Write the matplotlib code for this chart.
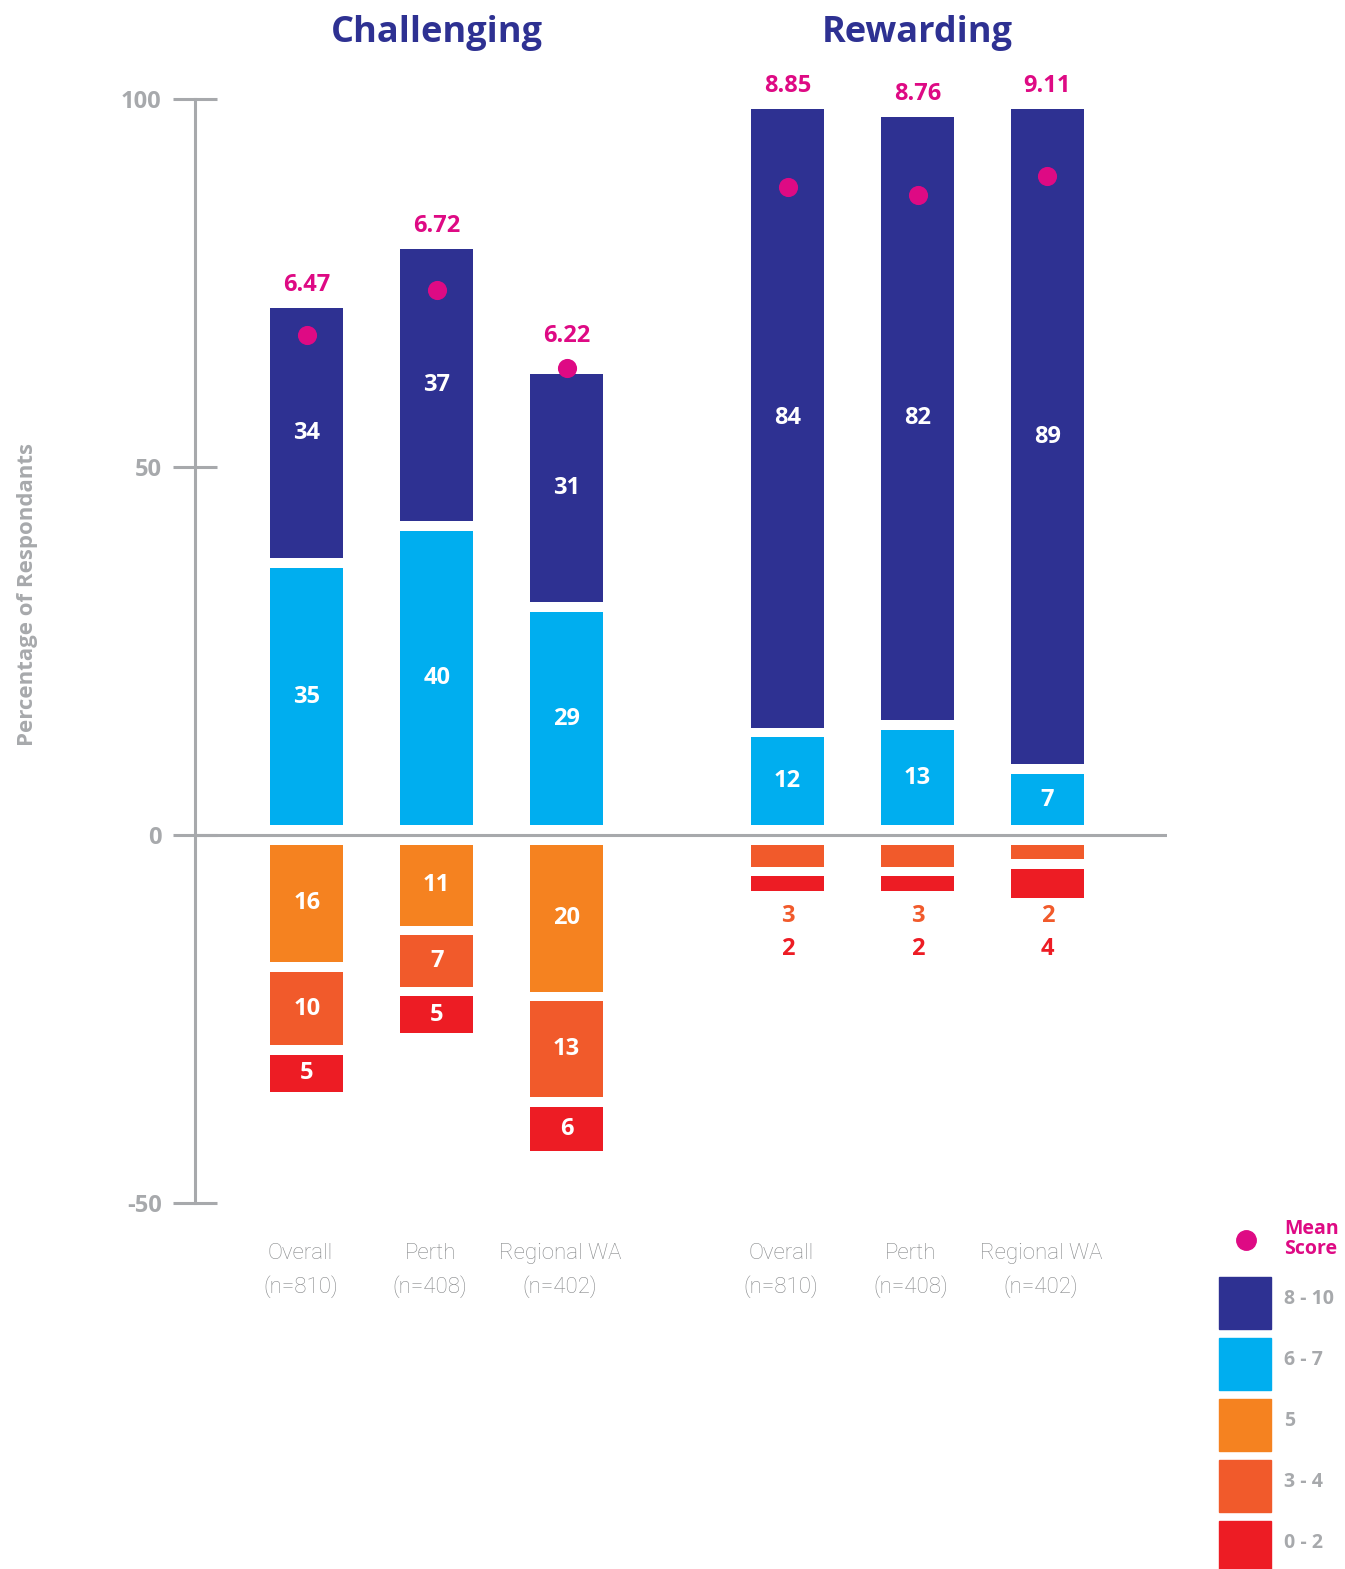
import numpy as np
import matplotlib.pyplot as plt
from matplotlib.patches import Rectangle
from matplotlib.transforms import blended_transform_factory

plt.rcParams['font.family'] = ['Open Sans', 'DejaVu Sans']
plt.rcParams['axes.unicode_minus'] = False

# data
groups = ['Challenging', 'Rewarding']
locations = ['Overall\n(n=810)', 'Perth\n(n=408)', 'Regional WA\n(n=402)']
bands = ['8 - 10', '6 - 7', '5', '3 - 4', '0 - 2']
yticks = [-50, 0, 50, 100]

chal_8_10 = [34, 37, 31]
chal_6_7 = [35, 40, 29]
chal_5 = [16, 11, 20]
chal_3_4 = [10, 7, 13]
chal_0_2 = [5, 5, 6]
chal_mean = [6.47, 6.72, 6.22]
chal_dot = [68, 74, 63.5]      # where the mean marker sits on the % axis

rew_8_10 = [84, 82, 89]
rew_6_7 = [12, 13, 7]
rew_5 = [0, 0, 0]
rew_3_4 = [3, 3, 2]
rew_0_2 = [2, 2, 4]
rew_mean = [8.85, 8.76, 9.11]
rew_dot = [88, 87, 89.5]

# colours
NAVY = '#2E3192'
CYAN = '#00AEEF'
ORANGE = '#F58220'
ORED = '#F15A2B'
RED = '#ED1C24'
MAGENTA = '#DE0A84'
GRAY = '#A7A9AC'
band_colors = [NAVY, CYAN, ORANGE, ORED, RED]

fig = plt.figure(figsize=(13.45, 15.69), dpi=100)
ax = fig.add_axes([195/1345, 1-1203/1569, 972/1345, 1104/1569])

xpos = [[0, 1, 2], [3.7, 4.7, 5.7]]
width = 0.56
gap = 1.3
FS = 17

group_data = [
    (chal_8_10, chal_6_7, chal_5, chal_3_4, chal_0_2, chal_mean, chal_dot, False),
    (rew_8_10, rew_6_7, rew_5, rew_3_4, rew_0_2, rew_mean, rew_dot, True),
]

for g, (s810, s67, s5, s34, s02, means, dots, small_neg) in enumerate(group_data):
    neg_bottoms = []
    for i, x in enumerate(xpos[g]):
        # positive stack (6-7 first, then 8-10)
        cum = 0
        for val, col in [(s67[i], CYAN), (s810[i], NAVY)]:
            b = cum + gap
            ax.bar(x, val, width, bottom=b, color=col, zorder=2)
            ax.text(x, b + val/2, str(val), ha='center', va='center', color='white',
                    fontsize=FS, fontweight='bold', zorder=4)
            cum = b + val
        top = cum
        # negative stack (5, 3-4, 0-2)
        cum = 0
        neg_vals = []
        for val, col in [(s5[i], ORANGE), (s34[i], ORED), (s02[i], RED)]:
            if val == 0:
                continue
            b = cum - gap
            ax.bar(x, -val, width, bottom=b, color=col, zorder=2)
            if not small_neg:
                ax.text(x, b - val/2, str(val), ha='center', va='center', color='white',
                        fontsize=FS, fontweight='bold', zorder=4)
            neg_vals.append((val, col))
            cum = b - val
        neg_bottoms.append((x, cum, neg_vals))

        # mean score marker and label
        ax.scatter(x, dots[i], s=190, color=MAGENTA, zorder=5, linewidths=0)
        ax.annotate(f'{means[i]:.2f}', xy=(x, max(top, dots[i] + 1.2)), xytext=(0, 8),
                    textcoords='offset points', ha='center', va='bottom',
                    color=MAGENTA, fontsize=FS, fontweight='bold', annotation_clip=False)

    if small_neg:
        low = min(b for _, b, _ in neg_bottoms)
        for x, _, vals in neg_bottoms:
            for k, (val, col) in enumerate(vals):
                ax.text(x, low - 2.4 - 4.5*k, str(val), ha='center', va='center',
                        color=col, fontsize=FS, fontweight='bold')

# axes styling
ax.set_xlim(-0.86, 6.62)
ax.set_ylim(-50, 100)
for s in ['top', 'right', 'bottom']:
    ax.spines[s].set_visible(False)
ax.spines['left'].set_color(GRAY)
ax.spines['left'].set_linewidth(2.2)
ax.axhline(0, color=GRAY, lw=2.2, zorder=3)
ax.set_xticks([])
ax.set_yticks(yticks)
ax.set_yticklabels([str(t) for t in yticks], fontweight='bold', fontsize=17)
ax.tick_params(axis='y', direction='inout', length=32, width=2.2, color=GRAY,
               labelcolor=GRAY, pad=8)

trans = blended_transform_factory(ax.transData, ax.transAxes)
for g in range(2):
    ax.text(np.mean(xpos[g]), 1.06, groups[g], transform=trans, ha='center', va='center',
            color=NAVY, fontsize=26, fontweight='bold')
    for i, x in enumerate(xpos[g]):
        ax.text(x - 0.05, -0.061, locations[i], transform=trans, ha='center', va='center',
                color='#86888A', fontsize=16, family=['Roboto', 'DejaVu Sans'],
                fontweight='light', linespacing=1.6)

fig.text(28/1345, 1-595/1569, 'Percentage of Respondants', rotation=90, ha='center',
         va='center', color=GRAY, fontsize=16, fontweight='bold')

# legend
fig.add_artist(plt.Line2D([1246/1345], [1-1240/1569], marker='o', markersize=14,
                          color=MAGENTA, lw=0))
fig.text(1284/1345, 1-1239/1569, 'Mean\nScore', ha='left', va='center', color=MAGENTA,
         fontsize=14, fontweight='bold', linespacing=1.0)
for k, (lab, col) in enumerate(zip(bands, band_colors)):
    ytop = 1277 + 61*k
    fig.add_artist(Rectangle((1219/1345, 1-(ytop+52)/1569), 52/1345, 52/1569,
                             color=col, transform=fig.transFigure))
    fig.text(1284/1345, 1-(ytop+22)/1569, lab, ha='left', va='center', color=GRAY,
             fontsize=14, fontweight='bold')

plt.savefig('out.png', dpi=100)
